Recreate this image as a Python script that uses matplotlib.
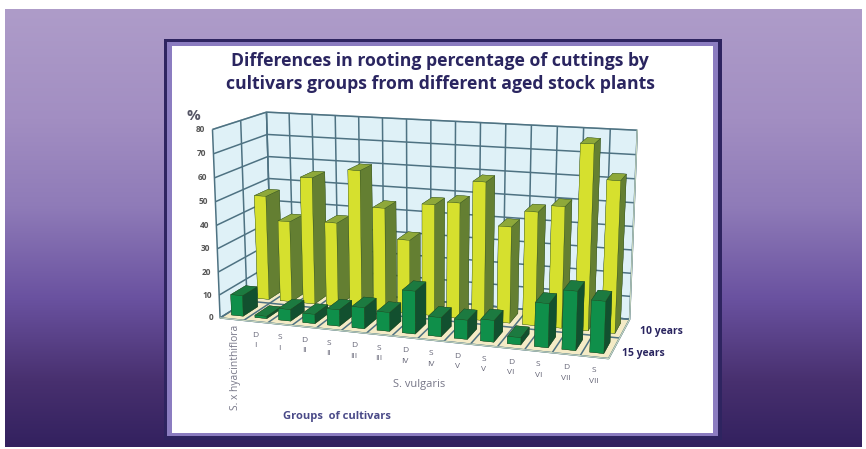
import numpy as np
import matplotlib
matplotlib.use('Agg')
import matplotlib.pyplot as plt
from matplotlib.colors import LinearSegmentedColormap
from matplotlib.patches import Rectangle
from mpl_toolkits.mplot3d import proj3d

CATEGORIES = ["D\nI", "S\nI", "D\nII", "S\nII", "D\nIII", "S\nIII", "D\nIV", "S\nIV",
              "D\nV", "S\nV", "D\nVI", "S\nVI", "D\nVII", "S\nVII"]
FIRST_GROUP = "S. x hyacinthiflora"
SECOND_GROUP = "S. vulgaris"
SERIES_NAMES = ["15 years", "10 years"]
Z_TICKS = [0, 10, 20, 30, 40, 50, 60, 70, 80]

YEARS_15 = [9, 1, 5, 4, 7, 9, 8, 18, 8, 8, 9, 3, 18, 24, 21]
YEARS_10 = [46.5, 36, 56, 37, 60.5, 45, 32, 48, 49.5, 59, 41, 48, 51, 77, 63]

NAVY = '#2a2560'
GRID = '#4e7282'

plt.rcParams['font.family'] = ['Open Sans', 'DejaVu Sans']

W, H = 866, 449
fig = plt.figure(figsize=(W / 100, H / 100), dpi=100, facecolor='white')

# slide background and the white card, in pixel coordinates
bg = fig.add_axes([0, 0, 1, 1])
bg.axis('off')
cmap = LinearSegmentedColormap.from_list('slide', [
    (0.0, '#ae9cc9'), (0.25, '#a28ec2'), (0.45, '#8f7bb8'), (0.66, '#6a52a0'),
    (0.85, '#48306f'), (1.0, '#33215f')])
bg.imshow(np.linspace(0, 1, 256)[:, None], cmap=cmap, aspect='auto',
          extent=(5, 862, 447, 9), zorder=0)
bg.set_xlim(0, W)
bg.set_ylim(H, 0)
bg.add_patch(Rectangle((164, 39), 558, 401, fc='#2e2460', ec='none', zorder=1))
bg.add_patch(Rectangle((167, 42), 551, 394, fc='#8b7cc0', ec='none', zorder=2))
bg.add_patch(Rectangle((172, 46), 541, 387, fc='white', ec='none', zorder=3))

bg.text(440, 72.5, "Differences in rooting percentage of cuttings by\n"
                   "cultivars groups from different aged stock plants",
        ha='center', va='center', fontsize=12.7, fontweight='bold', color=NAVY,
        linespacing=1.3, zorder=4)
bg.text(193, 116, "%", ha='center', va='center', fontsize=11, fontweight='bold',
        color='#555566', zorder=4)
bg.text(337, 416, "Groups  of cultivars", ha='center', va='center', fontsize=8,
        fontweight='bold', color='#4a4a88', zorder=4)

# 3d chart
ax = fig.add_axes([0.153, -0.027, 0.66, 1.02], projection='3d')
ax.patch.set_alpha(0)
ax.set_proj_type('persp', focal_length=0.5)
ax.view_init(elev=13.5, azim=-72, roll=0)
ax.set_box_aspect((2.4, 0.75, 1.17), zoom=0.975)

n = len(YEARS_10)
ax.set_xlim(0, n)
ax.set_ylim(0, 2)
ax.set_zlim(0, 80)

xs = np.arange(n) + 0.25
width = 0.5
depth = 0.55

x_all = np.concatenate([xs, xs])
y_all = np.concatenate([np.full(n, 0.2), np.full(n, 1.2)])
h_all = np.array(YEARS_15 + YEARS_10, dtype=float)

# bar3d face order: bottom, top, -y, +y, -x, +x
front = ['#0f3d25', '#1c7a40', '#0f8f4a', '#0f3d25', '#0f3d25', '#12502f']
back = ['#5e7d2e', '#8ea83a', '#d6e02e', '#5e7d2e', '#5e7d2e', '#647f32']
face_colors = [c for _ in range(n) for c in front] + [c for _ in range(n) for c in back]
bars = ax.bar3d(x_all, y_all, np.zeros(2 * n), width, depth, h_all, color=face_colors,
                shade=False, edgecolor='#2a4a20', linewidth=0.2)
bars.set_clip_on(False)

ax.set_xticks(np.arange(n + 1))
ax.set_yticks([0, 1, 2])
ax.set_zticks(Z_TICKS)
ax.set_xticklabels([])
ax.set_yticklabels([])
ax.set_zticklabels([])

ax.xaxis.set_pane_color('#dff1f7')
ax.yaxis.set_pane_color('#dff1f7')
ax.zaxis.set_pane_color('#f4ebc6')
for axis in (ax.xaxis, ax.yaxis, ax.zaxis):
    axis._axinfo['grid'].update(color=GRID, linewidth=1.1)
    axis._axinfo['tick'].update(inward_factor=0, outward_factor=0)
    axis.line.set_color('#c9d8c0')
    axis.pane.set_edgecolor('#9ab4bb')
    for line in axis.get_gridlines():
        line.set_clip_on(False)

fig.canvas.draw()


def to_pixel(x, y, z):
    # project a data point to slide pixels
    px, py, _ = proj3d.proj_transform(x, y, z, ax.get_proj())
    return bg.transData.inverted().transform(ax.transData.transform((px, py)))


def put(x, y, z, label, dx=0, dy=0, **kw):
    sx, sy = to_pixel(x, y, z)
    bg.text(sx + dx, sy + dy, label, zorder=5, **kw)


for z in Z_TICKS:
    put(0, 0, z, str(z), dx=-7, ha='right', va='center', fontsize=6,
        fontweight='bold', color='#555555')
for i, label in enumerate(CATEGORIES):
    put(i + 1.5, 0, 0, label, dy=19, ha='center', va='center', fontsize=6,
        color='#666677', linespacing=1.7)
put(0.5, 0, 0, FIRST_GROUP, dx=4, dy=48, rotation=90, ha='center', va='center', fontsize=7.4,
    color='#777788')
put(7.5, 0, 0, SECOND_GROUP, dx=14, dy=47, ha='center', va='center', fontsize=8,
    color='#777788')
put(n, 0.5, 0, SERIES_NAMES[0], dx=8, dy=5, ha='left', va='center', fontsize=7.5,
    fontweight='bold', color=NAVY)
put(n, 1.5, 0, SERIES_NAMES[1], dx=15, dy=3, ha='left', va='center', fontsize=7.5,
    fontweight='bold', color=NAVY)

fig.savefig('out.png', dpi=100)
